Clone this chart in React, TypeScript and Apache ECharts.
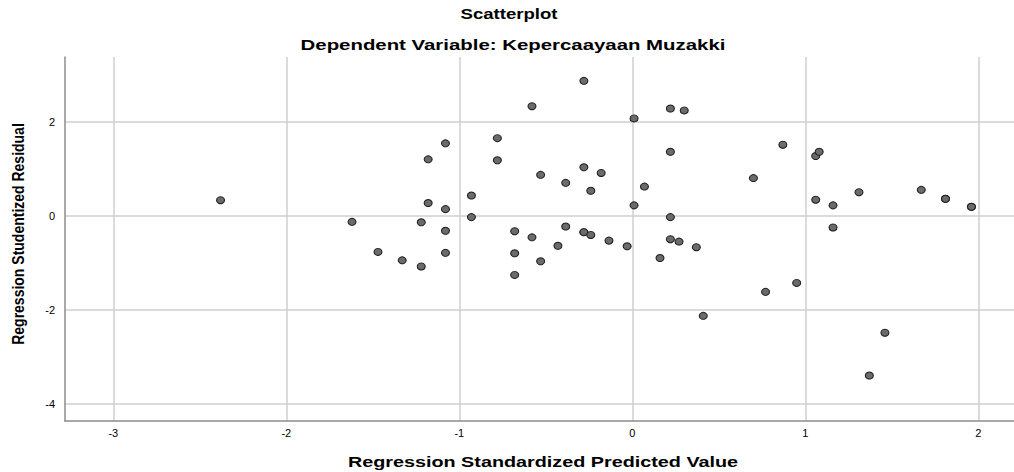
import React, { useEffect, useRef } from "react";
import * as echarts from "echarts";

const predicted = [
  -2.38, -1.62, -1.47, -1.33, -1.22, -1.22, -1.18, -1.18, -1.08, -1.08, -1.08, -1.08,
  -0.93, -0.93, -0.78, -0.78, -0.68, -0.68, -0.68, -0.58, -0.58, -0.53, -0.53, -0.43,
  -0.385, -0.385, -0.28, -0.28, -0.28, -0.28, -0.24, -0.24, -0.18, -0.135, -0.03, 0.01,
  0.01, 0.07, 0.16, 0.22, 0.22, 0.22, 0.22, 0.27, 0.30, 0.37, 0.41, 0.70, 0.77, 0.87,
  0.95, 1.06, 1.08, 1.06, 1.16, 1.16, 1.31, 1.37, 1.46, 1.67, 1.81, 1.81, 1.96, 1.96,
];
const residual = [
  0.33, -0.13, -0.77, -0.95, -0.14, -1.08, 1.2, 0.27, 1.54, 0.14, -0.32, -0.79,
  0.43, -0.03, 1.65, 1.18, -0.33, -0.8, -1.26, 2.33, -0.46, 0.87, -0.97, -0.64,
  0.7, -0.23, 2.87, 1.03, -0.35, -0.35, 0.53, -0.41, 0.91, -0.53, -0.65, 2.07,
  0.22, 0.62, -0.9, 2.28, 1.36, -0.03, -0.5, -0.55, 2.24, -0.67, -2.13, 0.8, -1.62, 1.51,
  -1.43, 1.27, 1.36, 0.34, 0.22, -0.25, 0.5, -3.4, -2.49, 0.55, 0.36, 0.36, 0.19, 0.19,
];
const xTicks = [-3, -2, -1, 0, 1, 2];
const yTicks = [-4, -2, 0, 2];

const titleText = "Scatterplot";
const subtitleText = "Dependent Variable: Kepercaayaan Muzakki";
const xAxisTitle = "Regression Standardized Predicted Value";
const yAxisTitle = "Regression Studentized Residual";

const FONT = "'Liberation Sans', Arial, sans-serif";

export default function App() {
  const ref = useRef<HTMLDivElement>(null);
  useEffect(() => {
    document.body.style.margin = "0";
    if (!ref.current) return;
    const chart = echarts.init(ref.current, null, { renderer: "svg" });
    const data = predicted.map((x, i) => [x, residual[i]]);
    chart.setOption({
      animation: false,
      backgroundColor: "#ffffff",
      textStyle: { fontFamily: FONT },
      grid: { left: 65, top: 57, right: 0, bottom: 51, containLabel: false },
      xAxis: {
        type: "value",
        min: -3.279,
        max: 2.206,
        axisLine: { show: true, onZero: false, lineStyle: { color: "#8c8c8c", width: 1.5 } },
        axisTick: { show: false, customValues: xTicks },
        axisLabel: {
          customValues: xTicks,
          color: "#000",
          fontSize: 11,
          margin: 6,
          fontFamily: FONT,
        },
        splitLine: { show: true, lineStyle: { color: "#cfcfcf", width: 1.5 } },
      },
      yAxis: {
        type: "value",
        min: -4.368,
        max: 3.377,
        axisLine: { show: true, onZero: false, lineStyle: { color: "#8c8c8c", width: 1.5 } },
        axisTick: { show: false, customValues: yTicks },
        axisLabel: {
          customValues: yTicks,
          color: "#000",
          fontSize: 11,
          margin: 10,
          fontFamily: FONT,
        },
        splitLine: { show: true, lineStyle: { color: "#cfcfcf", width: 1.5 } },
      },
      series: [
        {
          type: "scatter",
          data,
          symbol: "circle",
          symbolSize: [8, 7],
          itemStyle: { color: "#6b6b6b", borderColor: "#1e1e1e", borderWidth: 1, opacity: 1 },
          emphasis: { disabled: true },
        },
      ],
      graphic: [
        {
          type: "text",
          x: 509,
          y: 14,
          scaleX: 1.24,
          style: {
            text: titleText,
            font: `bold 15px ${FONT}`,
            fill: "#000",
            align: "center",
            verticalAlign: "middle",
          },
        },
        {
          type: "text",
          x: 513,
          y: 45,
          scaleX: 1.36,
          style: {
            text: subtitleText,
            font: `bold 15px ${FONT}`,
            fill: "#000",
            align: "center",
            verticalAlign: "middle",
          },
        },
        {
          type: "text",
          x: 543,
          y: 462,
          scaleX: 1.32,
          style: {
            text: xAxisTitle,
            font: `bold 15px ${FONT}`,
            fill: "#000",
            align: "center",
            verticalAlign: "middle",
          },
        },
        {
          type: "text",
          x: 18,
          y: 234,
          rotation: Math.PI / 2,
          scaleY: 1.15,
          style: {
            text: yAxisTitle,
            font: `bold 14px ${FONT}`,
            fill: "#000",
            align: "center",
            verticalAlign: "middle",
          },
        },
      ],
    });
    return () => chart.dispose();
  }, []);
  return <div ref={ref} style={{ width: 1014, height: 472 }} />;
}
